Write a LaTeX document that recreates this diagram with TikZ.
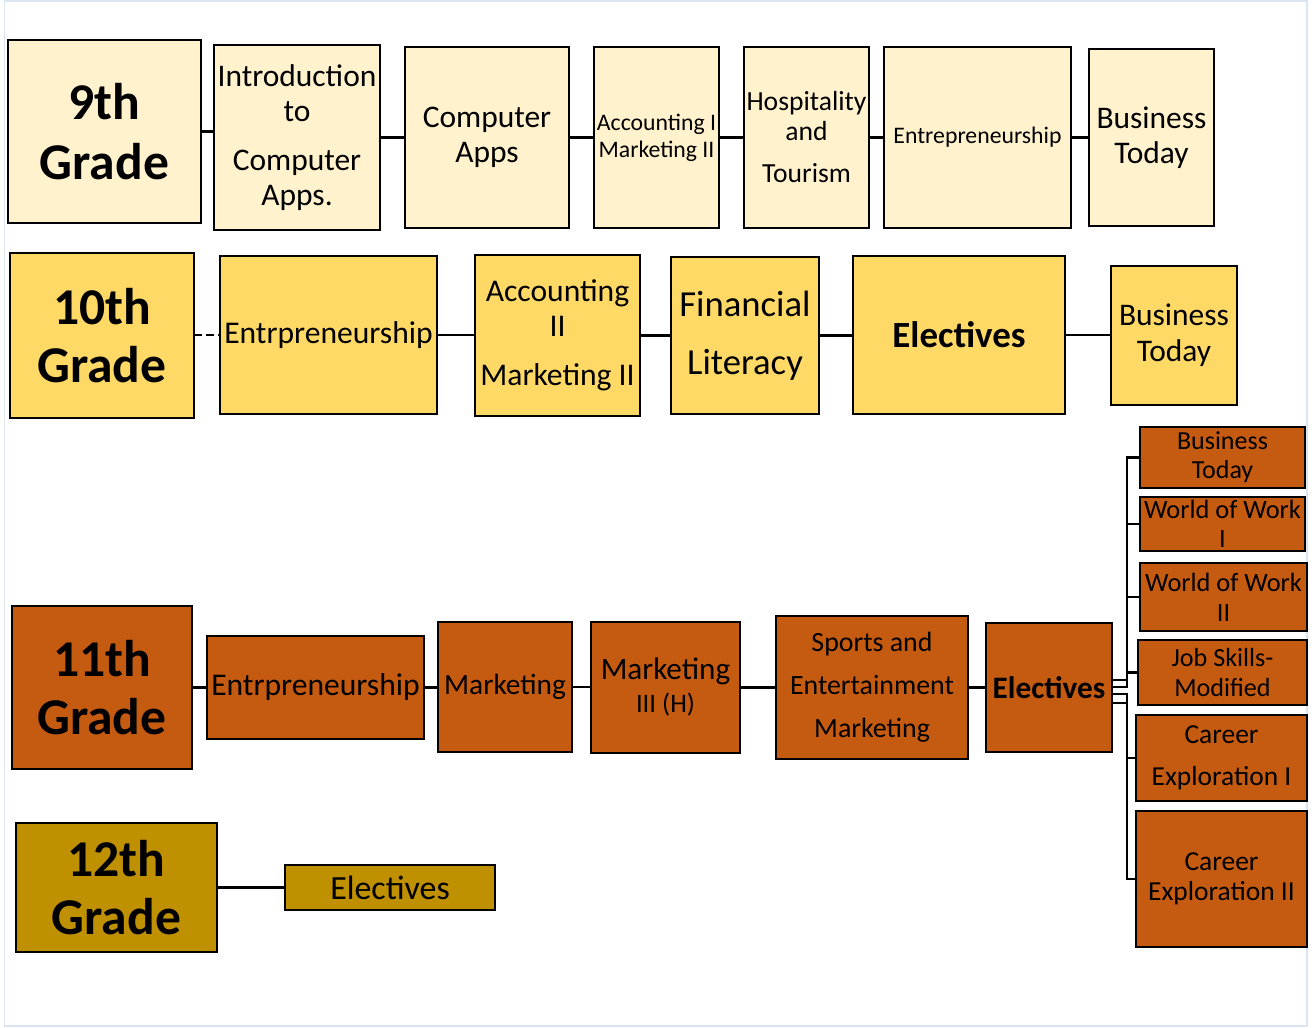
\documentclass[tikz,border=0pt]{standalone}
\usepackage{fontspec}
\setmainfont{Carlito}
\definecolor{cnine}{HTML}{FFF2CC}
\definecolor{cten}{HTML}{FFD966}
\definecolor{celeven}{HTML}{C55A11}
\definecolor{ctwelve}{HTML}{BF9000}
\definecolor{framecol}{HTML}{DAE5F1}
\newcommand\fsz[2]{\fontsize{#1}{#2}\selectfont}
\begin{document}
\begin{tikzpicture}[x=0.75pt,y=-0.75pt,
  box/.style={draw=black, line width=2.2pt, inner sep=0pt, outer sep=0pt, align=center, text=black, anchor=center},
  bx/.style n args={4}{minimum width={(#3-#1)*0.75pt}, minimum height={(#4-#2)*0.75pt}, at={({(#1+#3)/2},{(#2+#4)/2})}},
  conn/.style={draw=black, line width=1.6pt},
  grade/.style={box, font=\bfseries\fsz{38.7pt}{43.5pt}}]
\useasboundingbox (0,0) rectangle (1314,1028);
\draw[framecol, line width=1pt] (4.5,1) rectangle (1307,1026);

% ---------- 9th grade ----------
\node[grade, fill=cnine, font=\bfseries\fsz{38.7pt}{45pt}, bx={8}{40}{201}{223}] (g9) {9th\\Grade};
\node[box, fill=cnine, font=\fsz{23.6pt}{26.25pt}, bx={214}{45}{380}{230}] (intro) {Introduction\\to\\[10.5pt]Computer\\Apps.};
\node[box, fill=cnine, font=\fsz{23.6pt}{26.25pt}, bx={405}{47}{569}{228}] (capps) {Computer\\Apps};
\node[box, fill=cnine, font=\fsz{17.8pt}{20.25pt}, bx={594}{47}{719}{228}] (acc9) {Accounting I\\Marketing II};
\node[box, fill=cnine, font=\fsz{20.7pt}{22.5pt}, bx={744}{47}{869}{228}] (hosp) {Hospitality\\and\\[9pt]Tourism};
\node[box, fill=cnine, font=\fsz{17.8pt}{20.25pt}, bx={884}{47}{1071}{228}] (entre9) {Entrepreneurship};
\node[box, fill=cnine, font=\fsz{23.6pt}{26.25pt}, bx={1089}{49}{1214}{226}] (bt9) {Business\\Today};

\draw[conn] (g9.east) -- (g9.east -| intro.west);
\draw[conn] (intro.east) -- (intro.east -| capps.west);
\draw[conn] (capps.east) -- (capps.east -| acc9.west);
\draw[conn] (acc9.east) -- (acc9.east -| hosp.west);
\draw[conn] (hosp.east) -- (hosp.east -| entre9.west);
\draw[conn] (entre9.east) -- (entre9.east -| bt9.west);

% ---------- 10th grade ----------
\node[grade, fill=cten, bx={10}{253}{194}{418}] (g10) {10th\\Grade};
\node[box, fill=cten, font=\fsz{23.7pt}{26.25pt}, bx={220}{256}{437}{414}] (entr10) {Entrpreneurship};
\node[box, fill=cten, font=\fsz{23.7pt}{26.25pt}, bx={475}{255}{640}{416}] (acc10) {Accounting\\II\\[10.5pt]Marketing II};
\node[box, fill=cten, font=\fsz{27.5pt}{43.5pt}, bx={671}{257}{819}{414}] (fin) {Financial\\Literacy};
\node[box, fill=cten, font=\bfseries\fsz{27.7pt}{30pt}, bx={853}{256}{1065}{414}] (el10) {Electives};
\node[box, fill=cten, font=\fsz{23.6pt}{27pt}, bx={1111}{266}{1237}{405}] (bt10) {Business\\Today};

\draw[conn, dash pattern=on 6pt off 3pt] (g10.east |- entr10.west) -- (entr10.west);
\draw[conn] (entr10.east) -- (entr10.east -| acc10.west);
\draw[conn] (acc10.east) -- (acc10.east -| fin.west);
\draw[conn] (fin.east) -- (fin.east -| el10.west);
\draw[conn] (el10.east) -- (el10.east -| bt10.west);

% ---------- 11th grade ----------
\node[grade, fill=celeven, bx={12}{606}{192}{769}] (g11) {11th\\Grade};
\node[box, fill=celeven, font=\fsz{23.7pt}{26.25pt}, bx={207}{636}{424}{739}] (entr11) {Entrpreneurship};
\node[box, fill=celeven, font=\fsz{22pt}{26.25pt}, bx={438}{622}{572}{752}] (mkt) {Marketing};
\node[box, fill=celeven, font=\fsz{23.4pt}{24.75pt}, bx={591}{622}{740}{753}] (mkt3) {Marketing\\{\fsz{20pt}{24.75pt}III (H)}};
\node[box, fill=celeven, font=\fsz{20.9pt}{32.25pt}, bx={776}{616}{968}{759}] (sem) {Sports and\\Entertainment\\Marketing};
\node[box, fill=celeven, font=\bfseries\fsz{23.4pt}{26pt}, bx={986}{623}{1112}{752}] (el11) {Electives};

\node[box, fill=celeven, font=\fsz{19.5pt}{21.75pt}, bx={1140}{427}{1305}{488}] (bt11) {Business\\Today};
\node[box, fill=celeven, font=\fsz{19.8pt}{21.75pt}, bx={1140}{497}{1305}{551}] (wow1) {World of Work\\I};
\node[box, fill=celeven, font=\fsz{19.8pt}{22.5pt}, bx={1140}{563}{1307}{631}] (wow2) {World of Work\\II};
\node[box, fill=celeven, font=\fsz{19.6pt}{22.5pt}, bx={1138}{640}{1307}{705}] (job) {Job Skills-\\Modified};
\node[box, fill=celeven, font=\fsz{20.6pt}{31.5pt}, bx={1136}{715}{1307}{801}] (ce1) {Career\\Exploration I};
\node[box, fill=celeven, font=\fsz{20.6pt}{22.5pt}, bx={1136}{811}{1307}{947}] (ce2) {Career\\Exploration II};

\draw[conn] (g11.east) -- (g11.east -| entr11.west);
\draw[conn] (entr11.east |- g11.east) -- (g11.east -| mkt.west);
\draw[conn] (mkt.east) -- (mkt.east -| mkt3.west);
\draw[conn] (mkt3.east) -- (mkt3.east -| sem.west);
\draw[conn] (sem.east |- el11.west) -- (el11.west);

\draw[conn] (el11.east |- 0,680) -- (1127,680) |- (bt11.west);
\draw[conn] (el11.east |- 0,680) -- (1127,680) |- (wow1.west);
\draw[conn] (el11.east |- 0,687) -- (1127,687) |- (wow2.west);
\draw[conn] (el11.east |- 0,687) -- (1127,687) |- (job.west);
\draw[conn] (el11.east |- 0,694) -- (1127,694) |- (ce1.west);
\draw[conn] (el11.east |- 0,703) -- (1127,703) |- (ce2.west);

% ---------- 12th grade ----------
\node[grade, fill=ctwelve, bx={16}{823}{217}{952}] (g12) {12th\\Grade};
\node[box, fill=ctwelve, font=\fsz{25.4pt}{28pt}, bx={285}{865}{495}{910}] (el12) {Electives};
\draw[conn] (g12.east |- el12.west) -- (el12.west);
\end{tikzpicture}
\end{document}
